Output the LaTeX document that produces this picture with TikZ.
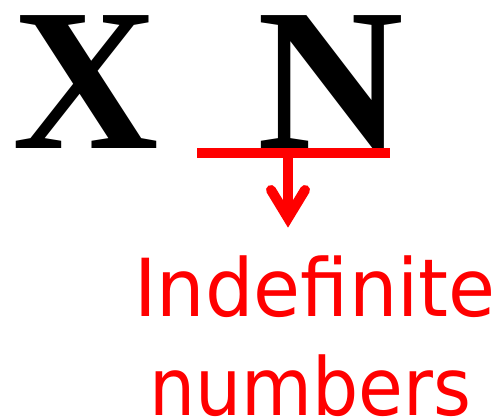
\documentclass[tikz,border=0pt]{standalone}
\usepackage{fontspec}
\setmainfont{Liberation Serif}
\newfontfamily\redfont{DejaVu Sans}
\begin{document}
\begin{tikzpicture}[x=1pt,y=-1pt,
  redline/.style={draw=red, line width=10pt},
  bigletter/.style={anchor=base, inner sep=0pt, font=\fontsize{203}{203}\bfseries\selectfont},
  redtext/.style={anchor=base, inner sep=0pt, text=red, font=\redfont\fontsize{80}{99}\selectfont}]
\useasboundingbox (0,0) rectangle (497,418);
\node[bigletter] (x) at (85.5,148) {X};
\node[bigletter] (n) at (331,148) {N};
\coordinate (barL) at (197,153);
\coordinate (barR) at (390,153);
\coordinate (barM) at (288,153);
\coordinate (tip) at (288,218);
\draw[redline] (barL) -- (barR);
\draw[redline] (barM) -- (tip);
\draw[redline, line cap=round, line join=miter] (271,190) -- (tip) -- (305,190);
\node[redtext] (lbl1) at (315,316) {\scalebox{0.955}[1]{Indefinite}};
\node[redtext] (lbl2) at (310.5,415) {\scalebox{0.91}[1]{numbers}};
\end{tikzpicture}
\end{document}
